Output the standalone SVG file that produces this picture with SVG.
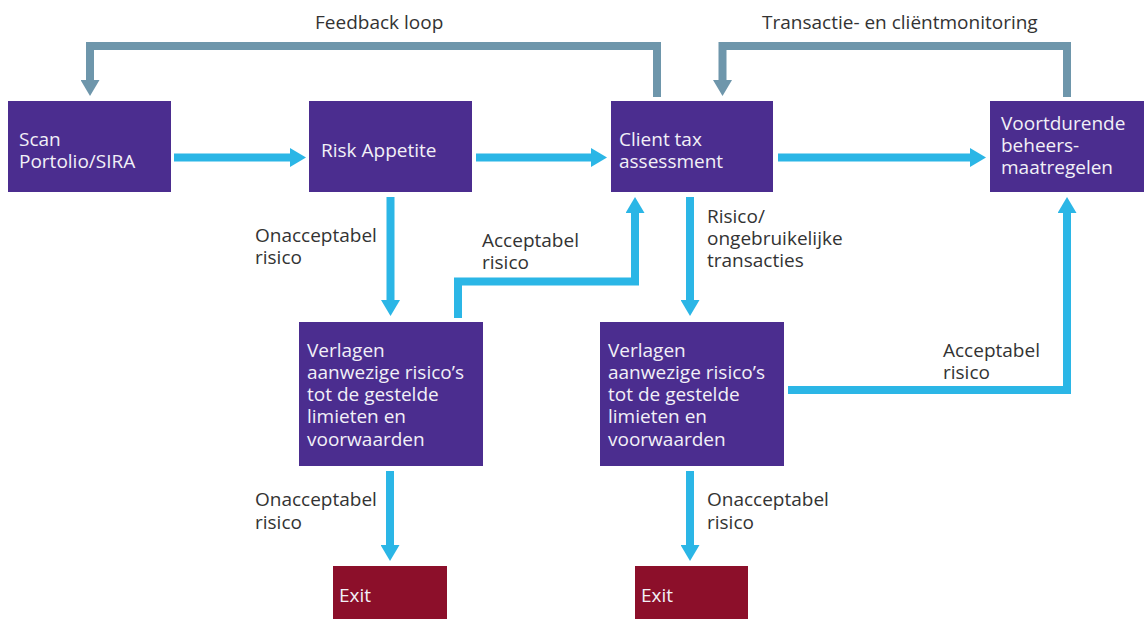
<svg xmlns="http://www.w3.org/2000/svg" width="1144" height="619" viewBox="0 0 1144 619">
<style>
.box{fill:#4b2d8f}
.exit{fill:#8c0f2a}
.nt{font-family:"Open Sans","Noto Sans",sans-serif;font-size:19px;fill:#f2f0f7}
.lb{font-family:"Open Sans","Noto Sans",sans-serif;font-size:19px;fill:#333333}
.ab{fill:none;stroke:#2bb6e6;stroke-width:8;stroke-linejoin:miter}
.ag{fill:none;stroke:#6e96ab;stroke-width:8;stroke-linejoin:miter}
</style>
<defs>
<marker id="hb" markerUnits="userSpaceOnUse" viewBox="0 0 16 19" refX="0" refY="9.5" markerWidth="16" markerHeight="19" orient="auto"><path d="M0,0 L16,9.5 L0,19 z" fill="#2bb6e6"/></marker>
<marker id="hg" markerUnits="userSpaceOnUse" viewBox="0 0 16 19" refX="0" refY="9.5" markerWidth="16" markerHeight="19" orient="auto"><path d="M0,0 L16,9.5 L0,19 z" fill="#6e96ab"/></marker>
</defs>
<rect width="1144" height="619" fill="#ffffff"/>
<g id="connectors">
<path class="ab" d="M174,157.5 H290" marker-end="url(#hb)"/>
<path class="ab" d="M476,157.5 H591" marker-end="url(#hb)"/>
<path class="ab" d="M778,157.5 H970" marker-end="url(#hb)"/>
<path class="ab" d="M390.5,197 V300" marker-end="url(#hb)"/>
<path class="ab" d="M458,318 V281.5 H635 V213" marker-end="url(#hb)"/>
<path class="ab" d="M690,197 V300" marker-end="url(#hb)"/>
<path class="ab" d="M788,390 H1067 V213" marker-end="url(#hb)"/>
<path class="ab" d="M390,471 V545" marker-end="url(#hb)"/>
<path class="ab" d="M690,471 V545" marker-end="url(#hb)"/>
<path class="ag" d="M657,97 V46 H90 V80" marker-end="url(#hg)"/>
<path class="ag" d="M1067,97 V46 H722.5 V80" marker-end="url(#hg)"/>
<text class="lb" x="315" y="29">Feedback loop</text>
<text class="lb" x="762" y="29">Transactie- en cliëntmonitoring</text>
<text class="lb" x="255" y="242">Onacceptabel</text>
<text class="lb" x="255" y="264">risico</text>
<text class="lb" x="482" y="247">Acceptabel</text>
<text class="lb" x="482" y="269">risico</text>
<text class="lb" x="707" y="223">Risico/</text>
<text class="lb" x="707" y="245">ongebruikelijke</text>
<text class="lb" x="707" y="267">transacties</text>
<text class="lb" x="943" y="357">Acceptabel</text>
<text class="lb" x="943" y="379">risico</text>
<text class="lb" x="255" y="506">Onacceptabel</text>
<text class="lb" x="255" y="529">risico</text>
<text class="lb" x="707" y="506">Onacceptabel</text>
<text class="lb" x="707" y="529">risico</text>
</g>
<g id="scan"><rect class="box" x="8" y="101" width="163" height="91"/><text class="nt" x="19" y="146">Scan</text><text class="nt" x="19" y="168">Portolio/SIRA</text></g>
<g id="risk"><rect class="box" x="309" y="101" width="163" height="91"/><text class="nt" x="321" y="157">Risk Appetite</text></g>
<g id="client"><rect class="box" x="611" y="101" width="162" height="91"/><text class="nt" x="619" y="146">Client tax</text><text class="nt" x="619" y="168">assessment</text></g>
<g id="voortdurende"><rect class="box" x="990" y="101" width="154" height="91"/><text class="nt" x="1001" y="130">Voortdurende</text><text class="nt" x="1001" y="152">beheers-</text><text class="nt" x="1001" y="174">maatregelen</text></g>
<g id="verlagen1"><rect class="box" x="299" y="322" width="184" height="144"/><text class="nt" x="307" y="357">Verlagen</text><text class="nt" x="307" y="379">aanwezige risico’s</text><text class="nt" x="307" y="401">tot de gestelde</text><text class="nt" x="307" y="423">limieten en</text><text class="nt" x="307" y="446">voorwaarden</text></g>
<g id="verlagen2"><rect class="box" x="600" y="322" width="184" height="144"/><text class="nt" x="608" y="357">Verlagen</text><text class="nt" x="608" y="379">aanwezige risico’s</text><text class="nt" x="608" y="401">tot de gestelde</text><text class="nt" x="608" y="423">limieten en</text><text class="nt" x="608" y="446">voorwaarden</text></g>
<g id="exit1"><rect class="exit" x="333" y="566" width="114" height="53"/><text class="nt" x="339" y="602">Exit</text></g>
<g id="exit2"><rect class="exit" x="635" y="566" width="113" height="53"/><text class="nt" x="641" y="602">Exit</text></g>
</svg>
